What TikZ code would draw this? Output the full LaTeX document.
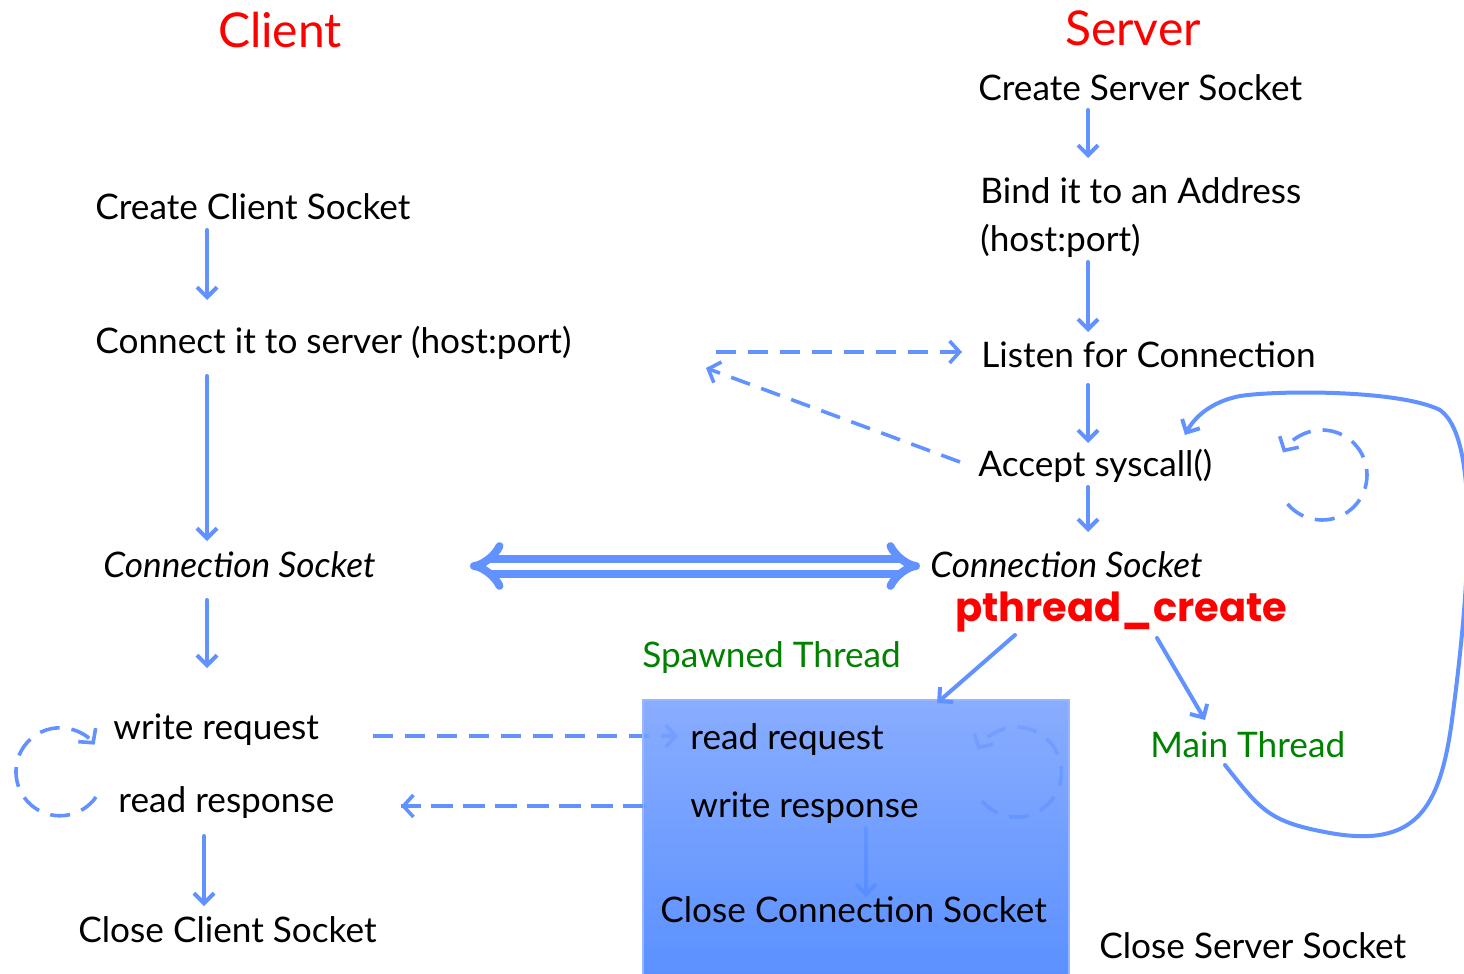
\documentclass[tikz,border=0pt]{standalone}
\usepackage{fontspec}
\setmainfont{Lato}
\newfontfamily\comicfont{Poppins}
\usetikzlibrary{arrows.meta,calc}
\definecolor{lblue}{RGB}{98,146,255}
\definecolor{boxtop}{RGB}{124,164,255}
\definecolor{boxbot}{RGB}{72,132,255}
\definecolor{gthread}{RGB}{0,130,0}
\tikzset{
  txt/.style={anchor=west,inner sep=0pt,font=\fontsize{17.6}{20}\selectfont},
  ttl/.style={inner sep=0pt,text=red,font=\fontsize{24}{28}\selectfont},
  flow/.style={draw=lblue,line width=2pt,-{Straight Barb[length=5pt,width=10pt,line width=2pt]},line cap=round},
  dflow/.style={draw=lblue,line width=1.8pt,dash pattern=on 10pt off 6pt,-{Straight Barb[length=5pt,width=11pt,line width=1.8pt]}},
}
\begin{document}
\begin{tikzpicture}[x=0.5pt,y=-0.5pt]
\useasboundingbox (0,0) rectangle (1464,974);
\clip (0,0) rectangle (1464,974);
% titles
\node[ttl] (client) at (280,30) {Client};
\node[ttl] (server) at (1133,28) {Server};
% server column
\node[txt] (css) at (978,88) {Create Server Socket};
\node[txt,align=left,anchor=north west] (bind) at (980,177) {Bind it to an Address\\[4pt](host:port)};
\node[txt] (listen) at (981,355) {Listen for Connection};
\node[txt] (accept) at (978,466) {Accept syscall()};
\node[txt,font=\fontsize{17.6}{20}\selectfont\itshape] (scs) at (930,565) {Connection Socket};
\node[anchor=west,inner sep=0pt,text=red,font=\comicfont\bfseries\fontsize{20}{24}\selectfont] (pc) at (955,612) {pthread\_create};
\node[txt,text=gthread] (spawn) at (642,658) {Spawned Thread};
\node[txt,text=gthread] (mainth) at (1150,745) {Main Thread};
\node[txt] (closess) at (1099,946) {Close Server Socket};
% client column
\node[txt] (ccs) at (95,207) {Create Client Socket};
\node[txt] (conn) at (95,343) {Connect it to server (host:port)};
\node[txt,font=\fontsize{17.6}{20}\selectfont\itshape] (ccsock) at (103,565) {Connection Socket};
\node[txt] (wreq) at (113,730) {write request};
\node[txt] (rresp) at (118,803) {read response};
\node[txt] (closecs) at (78,930) {Close Client Socket};
% coordinates
\coordinate (a1s) at (1088,110); \coordinate (a1e) at (1088,158);
\coordinate (a2s) at (1088,262); \coordinate (a2e) at (1088,332);
\coordinate (a3s) at (1088,385); \coordinate (a3e) at (1088,443);
\coordinate (a4s) at (1088,487); \coordinate (a4e) at (1088,532);
\coordinate (c1s) at (207,230); \coordinate (c1e) at (207,300);
\coordinate (c2s) at (207,376); \coordinate (c2e) at (207,541);
\coordinate (c3s) at (207,600); \coordinate (c3e) at (207,668);
\coordinate (c4s) at (204,836); \coordinate (c4e) at (204,906);
\coordinate (p1s) at (1015,635); \coordinate (p1e) at (937,703);
\coordinate (p2s) at (1157,638); \coordinate (p2e) at (1205,720);
\coordinate (ds1) at (716,352); \coordinate (de1) at (962,352);
\coordinate (ds2) at (960,462); \coordinate (de2) at (706,368);
\coordinate (ds3) at (373,736); \coordinate (de3) at (678,736);
\coordinate (ds4) at (645,806); \coordinate (de4) at (401,806);
\coordinate (fa) at (866,828); \coordinate (fb) at (866,897);
\coordinate (dl) at (470,566); \coordinate (dr) at (920,566);
% arrows under the box
\draw[dflow] (ds3) -- (de3);
\draw[dflow,-] (ds4) -- (de4);
\draw[flow] (fa) -- (fb);
\draw[dflow] (982,801) arc[start angle=140,end angle=-150,radius=45];
% box
\path[top color=boxtop,bottom color=boxbot,fill opacity=0.9,draw=boxtop!80!white,line width=1pt] (643,700) rectangle (1069,980);
\node[txt] (rreq) at (690,740) {read request};
\node[txt] (wresp) at (690,808) {write response};
\node[txt] (closecon) at (660,910) {Close Connection Socket};
% arrowhead of write response arrow (outside box)
\draw[dflow] (643,806) -- (de4);
% server arrows
\draw[flow] (a1s) -- (a1e);
\draw[flow] (a2s) -- (a2e);
\draw[flow] (a3s) -- (a3e);
\draw[flow] (a4s) -- (a4e);
\draw[flow] (c1s) -- (c1e);
\draw[flow] (c2s) -- (c2e);
\draw[flow] (c3s) -- (c3e);
\draw[flow] (c4s) -- (c4e);
\draw[flow] (p1s) -- (p1e);
\draw[flow] (p2s) -- (p2e);
\draw[dflow] (ds1) -- (de1);
\draw[dflow] (ds2) -- (de2);
% double arrow
\draw[lblue,line width=4pt,double=white,double distance=3.5pt,line join=round,{Implies[]}-{Implies[]}] (dl) -- (dr);
% dashed loops
\draw[dflow] (96,797) arc[start angle=35,end angle=322,radius=44];
\draw[dflow] ($(1322,475)+(140:45)$) arc[start angle=140,end angle=-150,radius=45];
% main thread loop
\coordinate (m0) at (1225,765);
\coordinate (m1) at (1185,435);
\draw[lblue,line width=2pt,-{Straight Barb[length=5pt,width=10pt,line width=2pt]},line cap=round]
  (m0) .. controls (1262,812) and (1270,822) .. (1330,833)
  .. controls (1415,848) and (1440,810) .. (1452,720)
  .. controls (1468,600) and (1482,440) .. (1440,410)
  .. controls (1400,390) and (1280,390) .. (1240,396)
  .. controls (1210,402) and (1194,418) .. (m1);
\end{tikzpicture}
\end{document}
